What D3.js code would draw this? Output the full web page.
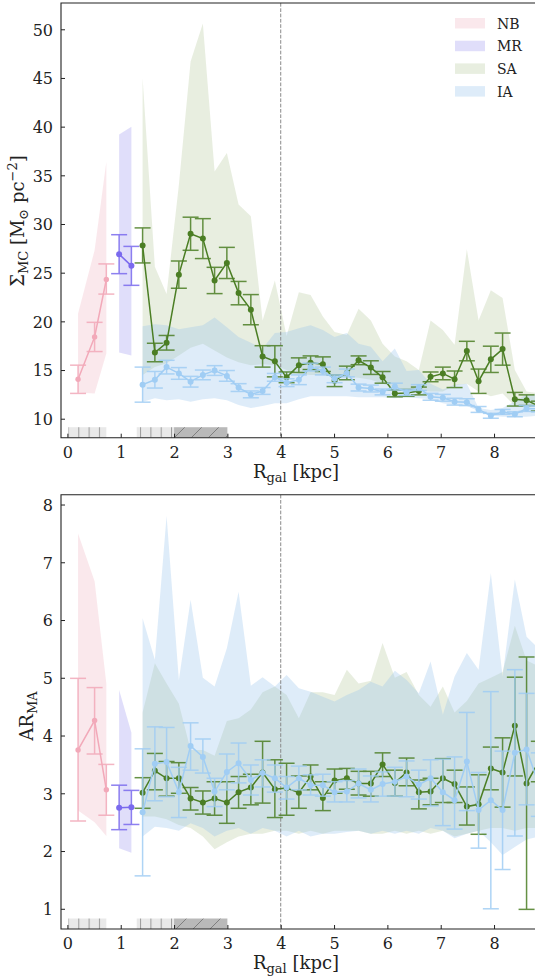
<!DOCTYPE html>
<html>
<head>
<meta charset="utf-8">
<script src="https://cdn.jsdelivr.net/npm/d3@7"></script>
<style>
  html, body { margin: 0; padding: 0; background: #fff; }
  svg { display: block; overflow: hidden; }
  text { font-family: "DejaVu Serif", serif; fill: #222; }
</style>
</head>
<body>
<script>
///////////////////////////
// DATA
// radial positions (kpc)
var xNB = [0.2, 0.51, 0.73];
var xMR = [0.97, 1.2];
var xGrid = [1.41, 1.64, 1.86, 2.09, 2.31, 2.54, 2.76, 2.99, 3.21, 3.44, 3.66, 3.89,
  4.11, 4.34, 4.56, 4.79, 5.01, 5.24, 5.46, 5.69, 5.91, 6.14, 6.36, 6.59, 6.81,
  7.04, 7.26, 7.49, 7.71, 7.94, 8.16, 8.39, 8.61, 8.84];

// --- top panel: Sigma_MC
var nbSig = [14.05, 18.4, 24.3], nbSigLo = [12.6, 16.9, 22.8], nbSigHi = [15.5, 19.9, 25.9];
var nbSigBandLo = [12.7, 12.6, 16.7], nbSigBandHi = [20.8, 27.3, 36.4];
var mrSig = [26.9, 25.7], mrSigLo = [24.9, 23.7], mrSigHi = [28.9, 27.7];
var mrSigBandLo = [16.8, 16.5], mrSigBandHi = [39.2, 40.0];

var saSig = [27.8, 16.8, 17.8, 24.8, 29.0, 28.5, 24.2, 26.0, 22.9, 21.2, 16.4, 15.9, 14.25,
  15.5, 15.75, 15.6, 13.9, 14.7, 16.0, 15.25, 14.25, 12.6, 12.65, 12.85, 14.3, 14.65, 14.05,
  16.95, 13.85, 16.1, 17.15, 12.0, 11.9, 11.3];
var saSigErr = [1.8, 0.95, 0.75, 1.4, 1.7, 2.05, 1.35, 1.6, 1.2, 1.55, 1.1, 1.6, 0.55, 0.75,
  0.7, 0.75, 0.6, 0.7, 0.45, 0.7, 0.6, 0.35, 0.35, 0.4, 0.5, 0.65, 0.85, 1.0, 1.25, 1.35,
  1.65, 0.7, 0.55, 0.5];
var saSigBandHi = [45.0, 25.6, 22.8, 34.0, 46.7, 50.6, 35.4, 37.3, 32.0, 30.8, 20.1, 24.2,
  18.5, 23.0, 22.7, 20.5, 18.9, 18.6, 21.3, 20.1, 17.7, 16.4, 15.9, 15.0, 20.1, 19.1, 17.6,
  27.4, 20.1, 23.2, 22.4, 15.0, 12.8, 12.6];
var saSigBandLo = [14.5, 15.3, 15.7, 16.5, 17.3, 17.7, 17.0, 16.3, 15.8, 15.5, 15.6, 15.5,
  15.0, 14.6, 14.5, 14.5, 14.3, 14.3, 14.2, 14.0, 13.6, 13.2, 13.0, 12.9, 12.8, 12.8, 13.4,
  13.6, 12.8, 12.3, 12.6, 11.3, 11.2, 11.2];

var iaSig = [13.5, 14.0, 15.3, 14.65, 13.8, 14.5, 14.95, 14.4, 13.2, 12.5, 12.85, 14.25, 13.7,
  14.0, 15.3, 14.9, 14.1, 14.7, 13.2, 13.1, 12.75, 13.3, 12.7, 13.2, 12.25, 12.15, 11.75,
  11.7, 10.95, 10.3, 10.7, 10.45, 11.05, 11.0];
var iaSigErr = [1.8, 0.85, 0.7, 0.6, 0.55, 0.5, 0.5, 0.55, 0.4, 0.35, 0.35, 0.4, 0.4, 0.5,
  0.4, 0.4, 0.4, 0.4, 0.35, 0.35, 0.3, 0.35, 0.3, 0.3, 0.35, 0.35, 0.35, 0.35, 0.3, 0.25,
  0.25, 0.25, 0.3, 0.3];
var iaSigBandHi = [19.5, 19.7, 19.6, 19.2, 19.4, 19.6, 20.4, 19.4, 18.4, 17.8, 17.2, 18.8,
  18.9, 19.3, 19.6, 19.1, 18.4, 18.8, 17.7, 17.4, 15.9, 17.2, 14.9, 15.0, 13.6, 13.0, 13.5,
  13.6, 11.1, 10.9, 11.1, 11.8, 12.5, 12.5];
var iaSigBandLo = [11.75, 12.1, 11.9, 12.0, 11.75, 12.0, 12.1, 11.9, 11.4, 11.1, 11.3, 11.6,
  11.6, 12.0, 12.3, 12.3, 12.3, 12.3, 12.2, 12.2, 12.2, 12.1, 12.2, 12.1, 12.0, 11.6, 11.4,
  11.3, 10.8, 10.3, 10.2, 10.2, 10.2, 10.3];

// --- bottom panel: AR_MA
var nbAR = [3.75, 4.26, 3.06], nbARLo = [2.52, 3.68, 2.62], nbARHi = [4.99, 4.83, 3.5];
var nbARBandLo = [2.7, 2.5, 2.26], nbARBandHi = [7.5, 6.67, 4.9];
var mrAR = [2.75, 2.76], mrARLo = [2.37, 2.46], mrARHi = [3.14, 3.05];
var mrARBandLo = [2.05, 1.97], mrARBandHi = [4.79, 4.05];

var saAR = [3.01, 3.39, 3.26, 3.26, 2.91, 2.84, 2.91, 2.84, 3.02, 3.1, 3.36, 3.07, 3.09, 3.01,
  3.29, 2.92, 3.22, 3.26, 3.17, 3.17, 3.5, 3.18, 3.36, 3.02, 3.03, 3.26, 3.16, 2.77, 2.81,
  3.43, 3.36, 4.17, 3.17, 3.55];
var saARHi = [3.27, 3.69, 3.55, 3.53, 3.1, 3.04, 3.2, 3.2, 3.29, 3.33, 3.9, 3.58, 3.52, 3.3,
  3.49, 3.2, 3.42, 3.43, 3.38, 3.38, 3.7, 3.4, 3.61, 3.23, 3.26, 3.6, 3.4, 3.11, 3.32, 3.8,
  3.96, 5.01, 5.36, 3.9];
var saARLo = [2.74, 3.06, 2.95, 3.0, 2.71, 2.64, 2.62, 2.48, 2.74, 2.8, 2.83, 2.58, 2.62,
  2.74, 3.06, 2.7, 3.0, 3.07, 2.97, 2.95, 3.29, 2.95, 3.13, 2.73, 2.8, 2.84, 2.84, 2.45,
  2.29, 3.06, 2.76, 3.3, 0.99, 3.2];
var saARBandHi = [4.4, 5.25, 4.9, 4.55, 3.75, 3.75, 3.65, 4.25, 4.3, 4.45, 4.75, 4.85, 4.7,
  4.3, 4.75, 4.75, 4.7, 5.14, 4.9, 4.95, 5.6, 5.0, 5.1, 4.7, 4.5, 4.85, 4.4, 4.6, 4.9, 5.0,
  5.1, 5.9, 5.3, 5.2];
var saARBandLo = [2.6, 2.6, 2.55, 2.45, 2.4, 2.25, 2.03, 2.15, 2.25, 2.3, 2.3, 2.35, 2.35,
  2.3, 2.35, 2.3, 2.35, 2.35, 2.35, 2.3, 2.3, 2.35, 2.3, 2.35, 2.3, 2.35, 2.25, 2.3, 2.35,
  2.4, 2.4, 2.35, 2.4, 2.4];

var iaAR = [2.67, 3.51, 3.54, 3.02, 3.82, 3.63, 3.03, 3.37, 3.52, 3.23, 3.35, 3.26, 3.1, 3.26,
  3.14, 3.14, 3.02, 3.03, 3.17, 3.06, 3.16, 3.2, 3.29, 3.15, 3.26, 3.02, 2.88, 3.55, 2.71,
  2.88, 2.71, 3.7, 3.76, 3.15];
var iaARHi = [3.77, 4.15, 4.14, 3.45, 4.22, 3.94, 3.26, 3.68, 3.87, 3.49, 3.58, 3.49, 3.29,
  3.47, 3.32, 3.33, 3.2, 3.22, 3.42, 3.3, 3.37, 3.45, 3.56, 3.4, 3.58, 3.59, 3.63, 4.4, 3.36,
  4.76, 3.73, 5.14, 4.73, 3.7];
var iaARLo = [1.57, 2.87, 2.94, 2.58, 3.4, 3.35, 2.77, 3.06, 3.18, 2.97, 3.11, 3.02, 2.9,
  3.06, 2.97, 2.95, 2.85, 2.85, 2.92, 2.85, 2.95, 2.95, 2.94, 2.9, 2.78, 2.44, 2.38, 2.7,
  2.05, 1.0, 1.68, 2.26, 2.8, 2.6];
var iaARBandHi = [6.03, 5.31, 7.8, 4.96, 6.35, 5.0, 4.85, 5.51, 6.49, 4.86, 5.01, 4.85, 5.05,
  4.82, 4.76, 4.67, 4.59, 4.7, 4.79, 4.93, 4.85, 5.12, 4.96, 4.73, 5.28, 4.36, 5.02, 5.43,
  5.14, 6.81, 5.02, 6.7, 5.71, 5.5];
var iaARBandLo = [2.25, 2.42, 2.4, 2.35, 2.48, 2.4, 2.25, 2.35, 2.4, 2.3, 2.4, 2.35, 2.25,
  2.35, 2.25, 2.3, 2.3, 2.33, 2.35, 2.3, 2.35, 2.3, 2.35, 2.3, 2.4, 2.35, 2.22, 2.3, 2.35,
  2.15, 1.93, 2.07, 2.2, 2.25];

// shaded radial ranges along the bottom of each panel
var hatchStart = [0.02, 1.3, 2.0];
var hatchEnd = [0.73, 2.0, 3.0];
var hatchKind = ['light', 'light', 'dark'];

var legendNames = ['NB', 'MR', 'SA', 'IA'];
var xTicks = [0, 1, 2, 3, 4, 5, 6, 7, 8];
var sigTicks = [10, 15, 20, 25, 30, 35, 40, 45, 50];
var arTicks = [1, 2, 3, 4, 5, 6, 7, 8];

///////////////////////////
// STYLE
var col = {NB: '#f2a9b9', MR: '#7a6aee', SA: '#4b7e24', IA: '#a0cdf4'};
var band = {NB: '#eeb2c0', MR: '#9891ee', SA: '#b2c698', IA: '#91c0eb'};
var bandOpacity = 0.3;

var width = 535, height = 980;
var svg = d3.select('body').append('svg')
  .attr('width', width).attr('height', height);

var defs = svg.append('defs');
var pl = defs.append('pattern').attr('id', 'hatchLight')
  .attr('patternUnits', 'userSpaceOnUse')
  .attr('x', 78.3).attr('width', 10.3).attr('height', 20);
pl.append('rect').attr('width', 10.3).attr('height', 20).attr('fill', '#e9e9e9');
pl.append('line').attr('x1', 0.5).attr('x2', 0.5).attr('y1', 0).attr('y2', 20)
  .attr('stroke', '#9a9a9a').attr('stroke-width', 1);
var pd = defs.append('pattern').attr('id', 'hatchDark')
  .attr('patternUnits', 'userSpaceOnUse')
  .attr('width', 17).attr('height', 17);
pd.append('rect').attr('width', 17).attr('height', 17).attr('fill', '#b9b9b9');
pd.append('path').attr('d', 'M-2,19 L19,-2 M-4,4 L4,-4 M13,21 L21,13')
  .attr('stroke', '#7f7f7f').attr('stroke-width', 1);

var x = d3.scaleLinear().domain([-0.12, 8.95]).range([61, 61 + 9.07 * 53.33]);

function panel(cfg) {
  var y = d3.scaleLinear().domain(cfg.ydom).range([cfg.bottom, cfg.top]);
  var g = svg.append('g');
  var clipId = 'clip' + cfg.id;
  defs.append('clipPath').attr('id', clipId).append('rect')
    .attr('x', x.range()[0]).attr('y', cfg.top)
    .attr('width', x.range()[1] - x.range()[0]).attr('height', cfg.bottom - cfg.top);
  var inner = g.append('g').attr('clip-path', 'url(#' + clipId + ')');

  // bands
  var area = d3.area().x(function(d) { return x(d[0]); })
    .y0(function(d) { return y(d[1]); }).y1(function(d) { return y(d[2]); });
  cfg.series.forEach(function(s) {
    var pts = s.x.map(function(v, i) { return [v, s.bandLo[i], s.bandHi[i]]; });
    inner.append('path').datum(pts).attr('d', area)
      .attr('fill', band[s.name]).attr('fill-opacity', bandOpacity);
  });

  // dashed line at 4 kpc
  inner.append('line').attr('x1', x(4)).attr('x2', x(4))
    .attr('y1', cfg.top).attr('y2', cfg.bottom)
    .attr('stroke', '#8a8a8a').attr('stroke-width', 1)
    .attr('stroke-dasharray', '3.7,1.6');

  // lines, error bars, points
  cfg.series.forEach(function(s) {
    var c = col[s.name];
    var gs = inner.append('g');
    var line = d3.line().x(function(d, i) { return x(s.x[i]); }).y(function(d) { return y(d); });
    var eb = gs.append('g').attr('opacity', 0.85);
    s.v.forEach(function(v, i) {
      var xx = x(s.x[i]), lo = y(s.lo[i]), hi = y(s.hi[i]);
      eb.append('line').attr('x1', xx).attr('x2', xx).attr('y1', lo).attr('y2', hi)
        .attr('stroke', c).attr('stroke-width', 1.5);
      [lo, hi].forEach(function(yy) {
        eb.append('line').attr('x1', xx - 8).attr('x2', xx + 8).attr('y1', yy).attr('y2', yy)
          .attr('stroke', c).attr('stroke-width', 1.5);
      });
    });
    gs.append('path').datum(s.v).attr('d', line)
      .attr('fill', 'none').attr('stroke', c).attr('stroke-width', 1.5);
    gs.selectAll('circle').data(s.v).enter().append('circle')
      .attr('cx', function(d, i) { return x(s.x[i]); })
      .attr('cy', function(d) { return y(d); })
      .attr('r', s.r).attr('fill', c);
  });

  // hatched ranges
  hatchStart.forEach(function(a, i) {
    inner.append('rect').attr('x', x(a)).attr('y', cfg.bottom - 10.5)
      .attr('width', x(hatchEnd[i]) - x(a)).attr('height', 10.5)
      .attr('fill', hatchKind[i] == 'light' ? 'url(#hatchLight)' : 'url(#hatchDark)');
  });

  // spines
  g.append('path')
    .attr('d', 'M' + x.range()[1] + ',' + cfg.top + 'H' + x.range()[0] + 'V' + cfg.bottom + 'H' + x.range()[1])
    .attr('fill', 'none').attr('stroke', '#222').attr('stroke-width', 1.1);

  // ticks (inward)
  var xa = g.append('g').attr('transform', 'translate(0,' + cfg.bottom + ')')
    .call(d3.axisBottom(x).tickValues(xTicks).tickSize(-4).tickPadding(9).tickFormat(d3.format('d')));
  var ya = g.append('g').attr('transform', 'translate(' + x.range()[0] + ',0)')
    .call(d3.axisLeft(y).tickValues(cfg.ticks).tickSize(-4).tickPadding(8).tickFormat(d3.format('d')));
  [xa, ya].forEach(function(a) {
    a.select('.domain').remove();
    a.selectAll('line').attr('stroke', '#222');
    a.selectAll('text').attr('font-size', 16).attr('font-family', '"DejaVu Serif", serif').attr('fill', '#222');
  });
  ya.selectAll('text').attr('dy', '0.36em');
  xa.selectAll('text').attr('dy', '0.68em');

  // x label
  var xl = g.append('text').attr('x', 296).attr('y', cfg.bottom + 40)
    .attr('text-anchor', 'middle').attr('font-size', 18);
  xl.append('tspan').text('R');
  xl.append('tspan').attr('font-size', 13).attr('dy', 4).text('gal');
  xl.append('tspan').attr('dy', -4).text(' [kpc]');

  return {g: g, y: y};
}

function mk(name, xs, v, lo, hi, bLo, bHi, r) {
  return {name: name, x: xs, v: v, lo: lo, hi: hi, bandLo: bLo, bandHi: bHi, r: r};
}

var top = panel({
  id: 'top', top: 3, bottom: 437.7, ydom: [8.05, 52.7], ticks: sigTicks,
  series: [
    mk('NB', xNB, nbSig, nbSigLo, nbSigHi, nbSigBandLo, nbSigBandHi, 2.7),
    mk('MR', xMR, mrSig, mrSigLo, mrSigHi, mrSigBandLo, mrSigBandHi, 3),
    mk('SA', xGrid, saSig, saSig.map(function(v, i) { return v - saSigErr[i]; }),
      saSig.map(function(v, i) { return v + saSigErr[i]; }), saSigBandLo, saSigBandHi, 3),
    mk('IA', xGrid, iaSig, iaSig.map(function(v, i) { return v - iaSigErr[i]; }),
      iaSig.map(function(v, i) { return v + iaSigErr[i]; }), iaSigBandLo, iaSigBandHi, 3)
  ]
});

var bot = panel({
  id: 'bot', top: 494.7, bottom: 929, ydom: [0.65, 8.17], ticks: arTicks,
  series: [
    mk('NB', xNB, nbAR, nbARLo, nbARHi, nbARBandLo, nbARBandHi, 2.7),
    mk('MR', xMR, mrAR, mrARLo, mrARHi, mrARBandLo, mrARBandHi, 3),
    mk('SA', xGrid, saAR, saARLo, saARHi, saARBandLo, saARBandHi, 3),
    mk('IA', xGrid, iaAR, iaARLo, iaARHi, iaARBandLo, iaARBandHi, 3)
  ]
});

// y labels
var yl1 = svg.append('text').attr('transform', 'translate(24,221) rotate(-90)')
  .attr('text-anchor', 'middle').attr('font-size', 18);
yl1.append('tspan').text('Σ');
yl1.append('tspan').attr('font-size', 13).attr('dy', 4).text('MC');
yl1.append('tspan').attr('dy', -4).text(' [M');
yl1.append('tspan').attr('font-size', 13).attr('dy', 4).text('⊙');
yl1.append('tspan').attr('dy', -4).text(' pc');
yl1.append('tspan').attr('font-size', 13).attr('dy', -7).text('−2');
yl1.append('tspan').attr('dy', 7).text(']');

var yl2 = svg.append('text').attr('transform', 'translate(33,716) rotate(-90)')
  .attr('text-anchor', 'middle').attr('font-size', 18);
yl2.append('tspan').text('AR');
yl2.append('tspan').attr('font-size', 13).attr('dy', 4).text('MA');

// legend
var lg = svg.append('g');
legendNames.forEach(function(n, i) {
  lg.append('rect').attr('x', 455).attr('y', 18 + i * 22.7).attr('width', 30).attr('height', 10.5)
    .attr('fill', band[n]).attr('fill-opacity', bandOpacity);
  lg.append('text').attr('x', 497).attr('y', 28.5 + i * 22.7).attr('font-size', 14).text(n);
});
</script>
</body>
</html>
